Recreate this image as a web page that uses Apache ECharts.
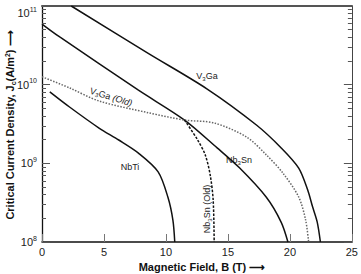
<!DOCTYPE html>
<html>
<head>
<meta charset="utf-8">
<script src="https://cdn.jsdelivr.net/npm/echarts@6/dist/echarts.min.js"></script>
<style>
  html, body { margin: 0; padding: 0; background: #fff; }
  #chart { width: 361px; height: 274px; }
</style>
</head>
<body>
<div id="chart"></div>
<script>
  // field B (T) and critical current density Jc (A/m2)
  const v3gaB = [2.36, 8.57, 13.33, 17.3, 19.3, 20.71, 21.43, 21.83, 22.2, 22.46];
  const v3gaJ = [1e11, 2.5e10, 8.8e9, 3.07e9, 1.57e9, 8.7e8, 4.6e8, 2.8e8, 1.8e8, 1e8];

  const nb3snB = [0, 1.43, 7.78, 11.5, 14.13, 15.95, 18.1, 19.3, 19.84];
  const nb3snJ = [5.9e10, 4.04e10, 8.5e9, 3.55e9, 1.57e9, 8.7e8, 3.7e8, 1.78e8, 1e8];

  const v3gaOldB = [0, 2.22, 4.6, 8.57, 11.5, 13.89, 16.51, 18.1, 19.44, 20.71, 21.27, 21.51];
  const v3gaOldJ = [1.26e10, 9.1e9, 6.2e9, 4.4e9, 3.55e9, 3.26e9, 2.16e9, 1.28e9, 7.5e8, 3.73e8, 1.9e8, 1e8];

  const nb3snOldB = [11.5, 12.54, 13.17, 13.57, 13.81, 13.89];
  const nb3snOldJ = [3.55e9, 2.0e9, 1.28e9, 7.1e8, 3.4e8, 1e8];

  const nbtiB = [0.63, 2.22, 4.6, 6.19, 7.78, 9.37, 10.16, 10.56, 10.71];
  const nbtiJ = [8.1e9, 5.2e9, 2.81e9, 1.98e9, 1.35e9, 7.8e8, 3.7e8, 1.9e8, 1e8];

  const decades = [1e8, 1e9, 1e10, 1e11];
  const minors = [2, 3, 4, 5, 6, 7, 8, 9];

  function pairs(xs, ys) {
    return xs.map(function (x, i) { return [x, ys[i]]; });
  }

  const minorVals = [];
  [1e8, 1e9, 1e10].forEach(function (d) {
    minors.forEach(function (k) { minorVals.push(k * d); });
  });

  const chart = echarts.init(document.getElementById('chart'), null, { renderer: 'svg' });

  const font = 'Liberation Sans, Arial, sans-serif';

  // log axes that only carry a set of inside ticks (and maybe the frame line)
  function tickAxis(pos, ticks, len, line) {
    return {
      type: 'log',
      logBase: 10,
      position: pos,
      min: 1e8,
      max: 1e11,
      axisLine: { show: line, lineStyle: { color: '#444', width: 1 } },
      axisTick: {
        show: true, inside: true, length: len, customValues: ticks,
        lineStyle: { color: '#555', width: 1 }
      },
      axisLabel: { show: false },
      splitLine: { show: false }
    };
  }

  const solid = { color: '#111', width: 1.5 };

  const option = {
    animation: false,
    grid: { left: 42, top: 6, right: 4, bottom: 32 },
    xAxis: [{
      type: 'value',
      min: 0,
      max: 25,
      interval: 5,
      axisLine: { show: true, lineStyle: { color: '#111', width: 1.5 } },
      axisTick: { show: true, inside: true, length: 8, lineStyle: { color: '#777', width: 1 } },
      axisLabel: { fontSize: 11, color: '#222', fontFamily: font, margin: 4 },
      splitLine: { show: false }
    }, {
      type: 'value',
      position: 'top',
      min: 0,
      max: 25,
      axisLine: { show: true, lineStyle: { color: '#555', width: 2 } },
      axisTick: { show: false },
      axisLabel: { show: false },
      splitLine: { show: false }
    }],
    yAxis: [{
      type: 'log',
      logBase: 10,
      position: 'left',
      min: 1e8,
      max: 1e11,
      axisLine: { show: true, lineStyle: { color: '#111', width: 1.3 } },
      axisTick: { show: true, inside: true, length: 8, customValues: decades,
        lineStyle: { color: '#555', width: 1 } },
      axisLabel: {
        customValues: decades,
        margin: 5,
        formatter: function (v) {
          const e = Math.round(Math.log10(v));
          if (e === 11) return '{bt|10}{st|' + e + '}';
          return '{b|10}{s|' + e + '}';
        },
        rich: {
          b: { fontSize: 11, color: '#222', fontFamily: font },
          s: { fontSize: 7, color: '#222', fontFamily: font, padding: [0, 0, 8, 0] },
          bt: { fontSize: 11, color: '#222', fontFamily: font, padding: [14, 0, 0, 0] },
          st: { fontSize: 7, color: '#222', fontFamily: font, padding: [11, 0, 5, 0] }
        }
      },
      splitLine: { show: false }
    },
      tickAxis('left', minorVals, 4, false),
      tickAxis('right', decades, 8, true),
      tickAxis('right', minorVals, 4, false)
    ],
    series: [
      { name: 'V3Ga', type: 'line', data: pairs(v3gaB, v3gaJ), showSymbol: false,
        smooth: 0.3, lineStyle: solid },
      { name: 'Nb3Sn', type: 'line', data: pairs(nb3snB, nb3snJ), showSymbol: false,
        smooth: 0.3, lineStyle: solid },
      { name: 'V3Ga (Old)', type: 'line', data: pairs(v3gaOldB, v3gaOldJ), showSymbol: false,
        smooth: 0.3, lineStyle: { color: '#666', width: 1.5, type: [1.5, 1.5] } },
      { name: 'Nb3Sn (Old)', type: 'line', data: pairs(nb3snOldB, nb3snOldJ), showSymbol: false,
        smooth: 0.3, lineStyle: { color: '#111', width: 1.5, type: [2.5, 1.5] } },
      { name: 'NbTi', type: 'line', data: pairs(nbtiB, nbtiJ), showSymbol: false,
        smooth: 0.3, lineStyle: solid }
    ],
    graphic: [
      { type: 'text', x: 207, y: 76, style: {
        text: 'V{s|3}Ga', align: 'center', verticalAlign: 'middle',
        font: '9px ' + font, fill: '#222', rich: { s: { fontSize: 6, padding: [5, 0, 0, 0] } } } },
      { type: 'text', x: 111, y: 97, rotation: -0.3, style: {
        text: 'V{s|3}Ga {i|(Old)}', align: 'center', verticalAlign: 'middle',
        font: '9px ' + font, fill: '#222',
        rich: { s: { fontSize: 6, padding: [5, 0, 0, 0] }, i: { fontStyle: 'italic', fontSize: 9 } } } },
      { type: 'text', x: 239, y: 160, style: {
        text: 'Nb{s|3}Sn', align: 'center', verticalAlign: 'middle',
        font: '9px ' + font, fill: '#222', rich: { s: { fontSize: 6, padding: [5, 0, 0, 0] } } } },
      { type: 'text', x: 130, y: 167, style: {
        text: 'NbTi', align: 'center', verticalAlign: 'middle',
        font: '9px ' + font, fill: '#222' } },
      { type: 'text', x: 207, y: 209, rotation: Math.PI / 2, style: {
        text: 'Nb{s|3}Sn (Old)', align: 'center', verticalAlign: 'middle',
        font: '9px ' + font, fill: '#222', rich: { s: { fontSize: 6, padding: [5, 0, 0, 0] } } } },
      { type: 'text', x: 202, y: 267, style: {
        text: 'Magnetic Field, B (T) \u27F6', align: 'center', verticalAlign: 'middle',
        font: 'bold 11px ' + font, fill: '#111' } },
      { type: 'text', x: 10, y: 125, rotation: Math.PI / 2, style: {
        text: 'Critical Current Density, J{c|c}(A/m{t|2}) \u27F6', align: 'center', verticalAlign: 'middle',
        font: 'bold 11px ' + font, fill: '#111',
        rich: {
          c: { fontSize: 7, fontWeight: 'bold', padding: [6, 0, 0, 0] },
          t: { fontSize: 7, fontWeight: 'bold', padding: [0, 0, 6, 0] }
        } } }
    ]
  };

  chart.setOption(option);
</script>
</body>
</html>
